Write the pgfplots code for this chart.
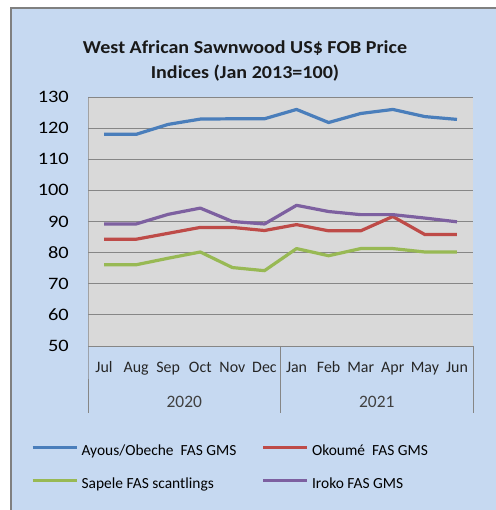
\documentclass[border=0pt]{standalone}
\usepackage{pgfplots}
\pgfplotsset{compat=1.18}
\usepackage{fontspec}
\setmainfont{Carlito}
\newfontfamily\tickfont{Carlito}[FakeStretch=1.17]
\newfontfamily\titlefont{Carlito}[FakeStretch=1.1]
\definecolor{bgblue}{HTML}{C6D9F1}
\definecolor{plotgray}{HTML}{D9D9D9}
\definecolor{gridgray}{HTML}{868686}
\definecolor{sblue}{HTML}{4A7EBB}
\definecolor{sred}{HTML}{BE4B48}
\definecolor{sgreen}{HTML}{98B954}
\definecolor{spurple}{HTML}{7D60A0}
\begin{document}
\begin{tikzpicture}[x=1bp,y=1bp]
\useasboundingbox (0,0) rectangle (496,510);
\fill[white] (0,0) rectangle (496,510);
\filldraw[fill=bgblue, draw=gray, line width=2.2bp] (11,-10) rectangle (510,502);
\node[font=\titlefont\fontsize{18.3}{25}\selectfont\bfseries, align=center, text=black!90] at (245,449) {West African Sawnwood US\$ FOB Price\\Indices (Jan 2013=100)};
\begin{axis}[
  at={(88bp,164bp)}, anchor=south west,
  scale only axis, width=385bp, height=249bp,
  xmin=-0.5, xmax=11.5, ymin=50, ymax=130,
  ytick={50,60,...,130},
  xtick={0,...,11},
  xticklabels={Jul,Aug,Sep,Oct,Nov,Dec,Jan,Feb,Mar,Apr,May,Jun},
  axis background/.style={fill=plotgray},
  axis line style={draw=none},
  ytick align=outside, xtick align=inside,
  major tick length=19bp,
  tick style={draw=none},
  ymajorgrids, grid style={gridgray, line width=0.8bp},
  yticklabel style={font=\tickfont\fontsize{17.5}{17.5}\selectfont, inner sep=0pt, anchor=east},
  xticklabel style={font=\fontsize{16}{16}\selectfont, text=black!85, inner sep=0pt, anchor=base, yshift=-27bp},
  /pgf/number format/assume math mode=true,
  clip=false,
  legend columns=2,
  legend cell align=left,
  legend style={draw=none, fill=none, font=\fontsize{15.5}{15.5}\selectfont,
    inner sep=0pt, outer sep=0pt,
    at={(-0.1478,-0.397)}, anchor=north west,
    nodes={inner sep=0pt, outer sep=0pt, text height=11bp, text depth=3.5bp},
    row sep=18bp,
    /tikz/every odd column/.append style={column sep=3.5bp}},
  legend image code/.code={\draw[#1, line width=3bp] (0bp,4.5bp) -- (44bp,4.5bp);},
  every axis plot/.append style={line width=3.2bp, line join=round},
]
\addplot[sblue] coordinates {(0,118) (1,118) (2,121.2) (3,122.9) (4,123) (5,123) (6,126) (7,121.8) (8,124.7) (9,126) (10,123.7) (11,122.8)};
\addlegendentry{\makebox[180bp][l]{Ayous/Obeche\ \ FAS GMS}}
\addplot[sred] coordinates {(0,84.3) (1,84.3) (2,86.2) (3,88.1) (4,88.1) (5,87.1) (6,89) (7,87) (8,87) (9,91.6) (10,85.8) (11,85.8)};
\addlegendentry{Okoumé\ \ FAS GMS}
\addplot[sgreen] coordinates {(0,76.1) (1,76.1) (2,78.2) (3,80.2) (4,75.2) (5,74.2) (6,81.3) (7,79) (8,81.3) (9,81.3) (10,80.2) (11,80.2)};
\addlegendentry{\makebox[180bp][l]{Sapele FAS scantlings}}
\addplot[spurple] coordinates {(0,89.2) (1,89.2) (2,92.3) (3,94.3) (4,90) (5,89.2) (6,95.2) (7,93.2) (8,92.2) (9,92.2) (10,91.1) (11,89.9)};
\addlegendentry{Iroko FAS GMS}
\draw[gridgray, line width=0.8bp] (rel axis cs:0,1) -- (rel axis cs:0,0) -- ([yshift=-67bp]rel axis cs:0,0);
\draw[gridgray, line width=0.8bp] (axis cs:5.5,50) -- ([yshift=-67bp]axis cs:5.5,50);
\draw[gridgray, line width=0.8bp] (axis cs:11.5,50) -- ([yshift=-67bp]axis cs:11.5,50);
\node[font=\fontsize{17.5}{17.5}\selectfont, text=black!75, anchor=base] at ([yshift=-62bp]axis cs:2.5,50) {2020};
\node[font=\fontsize{17.5}{17.5}\selectfont, text=black!75, anchor=base] at ([yshift=-62bp]axis cs:8.5,50) {2021};
\end{axis}
\end{tikzpicture}
\end{document}
